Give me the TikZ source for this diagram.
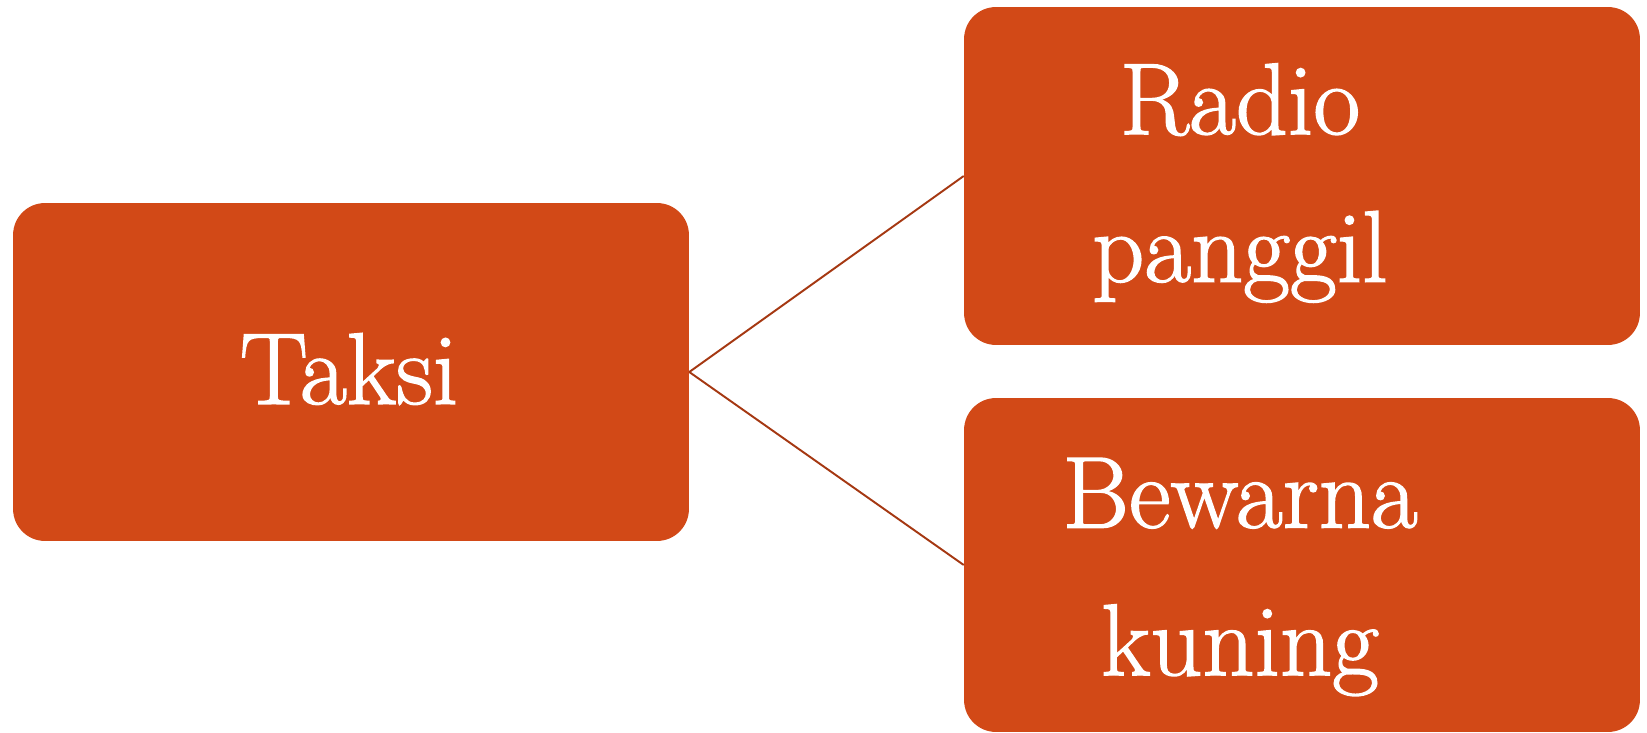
\documentclass[tikz,border=0pt]{standalone}
\usepackage{fontspec}
\newfontfamily\wordfont{Latin Modern Roman}[FakeBold=1.4]
\definecolor{boxfill}{RGB}{210,73,23}
\definecolor{linkcol}{RGB}{165,56,18}
\begin{document}
\begin{tikzpicture}
        [x=0.02cm,y=-0.02cm,
         box/.style={fill=boxfill,rounded corners=0.64cm,minimum width=13.52cm,inner sep=0pt},
         word/.style={text=white,align=center,font=\wordfont\fontsize{58}{84}\selectfont},
         link/.style={draw=linkcol,line width=1.1pt}]
        \useasboundingbox (0,0) rectangle (1647,733);

        \node[box,minimum height=6.76cm] (taksi) at (351,372) {};
        \node[box,minimum height=6.76cm] (radio) at (1302,176) {};
        \node[box,minimum height=6.68cm] (kuning) at (1302,565) {};

        \node[word] (taksitxt) at (349,369) {Taksi};
        \node[word] (radiotxt) at (1240,183) {Radio\\panggil};
        \node[word] (kuningtxt) at (1240,577) {Bewarna\\kuning};

        \draw[link] (taksi.east) -- (radio.west);
        \draw[link] (taksi.east) -- (kuning.west);
      \end{tikzpicture}
\end{document}
